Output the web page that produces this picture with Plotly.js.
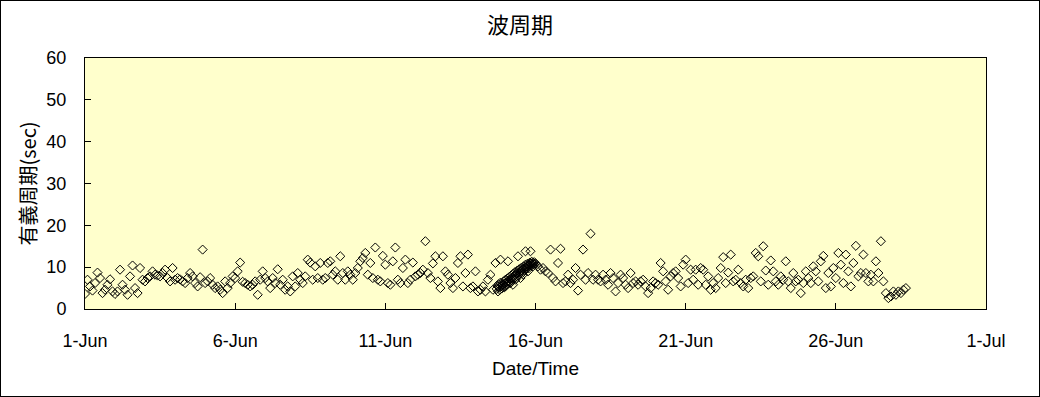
<!DOCTYPE html>
<html>
<head>
<meta charset="utf-8">
<script src="https://cdn.plot.ly/plotly-3.0.1.min.js"></script>
<style>
  html, body { margin: 0; padding: 0; background: #fff; }
  #chart { width: 1038px; height: 395px; border: 1px solid #000; }
</style>
</head>
<body>
<div id="chart"></div>
<script>
// ---- data ----
const seriesStart = '2020-06-01T00:00:00';
const stepHours = 2;
// significant wave period (sec), every 2 hours from 1-Jun 00:00
const period = [
  3.6, 7.0, 5.4, 4.4, 6.2, 8.7, 7.4, 3.8, 4.6, 5.8, 7.1, 4.2,
  3.6, 4.2, 9.4, 5.8, 4.6, 3.4, 7.8, 10.4, 5.0, 3.8, 9.8, 7.0,
  6.6, 7.4, 7.8, 9.0, 8.2, 8.0, 7.8, 8.6, 9.4, 7.4, 6.6, 9.8,
  7.0, 7.4, 7.1, 6.6, 6.2, 7.4, 8.6, 7.8, 6.2, 5.4, 7.6, 14.2,
  6.2, 6.6, 7.4, 5.8, 5.0, 5.4, 4.6, 3.8, 6.6, 5.0, 6.2, 7.8,
  7.4, 9.0, 11.1, 6.5, 6.2, 5.8, 5.4, 5.8, 6.6, 3.4, 7.0, 9.0,
  7.4, 6.6, 5.0, 7.4, 6.2, 9.5, 5.8, 7.0, 4.6, 5.4, 4.2, 7.8,
  5.4, 8.6, 7.0, 6.2, 7.8, 11.8, 11.1, 7.0, 10.2, 7.4, 11.0, 7.0,
  7.4, 11.0, 11.4, 8.2, 9.0, 7.0, 12.6, 8.6, 7.0, 9.0, 8.2, 7.0,
  8.6, 9.8, 11.4, 12.2, 13.4, 8.2, 11.0, 7.4, 14.7, 7.0, 6.6, 12.7,
  10.6, 6.2, 5.8, 11.4, 14.7, 7.0, 6.2, 9.8, 11.8, 6.2, 7.0, 11.1,
  7.8, 8.2, 8.6, 9.4, 16.2, 8.6, 7.4, 10.9, 12.6, 6.6, 5.0, 12.6,
  9.0, 8.2, 6.2, 5.0, 7.4, 11.0, 12.6, 5.4, 8.6, 13.0, 5.0, 5.4,
  9.0, 4.2, 4.6, 5.4, 4.2, 7.0, 8.2, 4.6, 11.0, 5.4, 11.8, 5.8,
  5.4, 11.4, 6.2, 5.8, 7.0, 12.6, 7.4, 8.2, 13.8, 9.0, 13.8, 10.2,
  10.9, 10.2, 9.4, 9.8, 9.0, 8.6, 14.2, 7.4, 6.6, 11.0, 14.4, 6.2,
  6.6, 8.2, 6.2, 7.0, 9.8, 4.4, 8.2, 14.2, 7.0, 8.6, 18.0, 7.0,
  8.2, 7.0, 6.6, 8.2, 7.0, 5.8, 8.6, 7.4, 4.2, 6.2, 8.2, 7.4,
  5.8, 5.0, 8.6, 6.2, 6.6, 5.8, 6.6, 7.0, 5.4, 3.8, 5.0, 6.6,
  6.2, 5.8, 11.0, 9.0, 6.6, 4.6, 7.8, 8.6, 9.0, 7.4, 5.4, 10.6,
  11.8, 6.2, 9.4, 7.0, 9.4, 5.8, 9.8, 9.4, 5.8, 7.8, 4.6, 6.2,
  5.0, 7.4, 9.8, 12.4, 6.2, 8.7, 13.0, 6.6, 7.0, 9.4, 6.2, 5.4,
  7.0, 5.0, 7.4, 7.8, 13.4, 12.6, 6.6, 15.0, 9.2, 5.8, 11.6, 9.0,
  6.6, 5.8, 7.8, 7.0, 11.4, 6.6, 5.0, 8.6, 6.6, 7.0, 3.8, 6.2,
  9.0, 7.4, 6.2, 10.2, 9.0, 6.6, 11.4, 12.7, 5.0, 8.6, 5.4, 9.8,
  7.4, 13.4, 10.6, 6.2, 13.0, 9.0, 5.4, 11.0, 15.1, 7.8, 8.6, 13.0,
  8.6, 6.6, 8.2, 6.6, 11.4, 8.6, 16.2, 6.6, 3.8, 2.6, 3.0, 4.2,
  3.4, 4.2, 3.8, 4.6, 5.0
];
// denser record 14-Jun 17:00 .. 15-Jun 23:30, every 30 min
const denseStart = '2020-06-14T17:00:00';
const denseStepMinutes = 30;
const densePeriod = [
  4.8, 5.6, 4.2, 5.9, 5.1, 4.6, 6.3, 5.4, 4.9, 6.0,
  5.7, 6.6, 5.2, 6.1, 7.0, 5.8, 6.4, 7.3, 6.0, 6.8,
  7.6, 6.5, 7.1, 8.0, 6.9, 7.5, 8.4, 7.2, 7.9, 8.8,
  8.1, 7.4, 8.6, 9.2, 8.0, 8.7, 9.5, 8.4, 9.0, 9.8,
  9.1, 8.6, 9.6, 10.2, 9.3, 9.9, 10.6, 9.5, 10.1, 10.8,
  10.3, 9.7, 10.5, 11.1, 10.4, 10.9, 11.3, 10.6, 11.0, 10.7,
  11.2, 10.8
];
const tickDates = ['2020-06-01', '2020-06-06', '2020-06-11', '2020-06-16', '2020-06-21', '2020-06-26', '2020-07-01'];
const tickLabels = ['1-Jun', '6-Jun', '11-Jun', '16-Jun', '21-Jun', '26-Jun', '1-Jul'];
const yTicks = [0, 10, 20, 30, 40, 50, 60];

// ---- build times ----
function pad(n) { return (n < 10 ? '0' : '') + n; }
function fmt(ms) {
  const d = new Date(ms);
  return d.getUTCFullYear() + '-' + pad(d.getUTCMonth() + 1) + '-' + pad(d.getUTCDate()) +
    ' ' + pad(d.getUTCHours()) + ':' + pad(d.getUTCMinutes());
}
const t0 = Date.parse(seriesStart + 'Z');
const times = period.map((_, i) => fmt(t0 + i * stepHours * 3600000));
const td0 = Date.parse(denseStart + 'Z');
const denseTimes = densePeriod.map((_, i) => fmt(td0 + i * denseStepMinutes * 60000));

const markerStyle = { symbol: 'diamond-open', size: 7, color: '#000', line: { width: 1, color: '#000' } };

const traces = [
  { x: times, y: period, type: 'scatter', mode: 'markers', marker: markerStyle, hoverinfo: 'skip' },
  { x: denseTimes, y: densePeriod, type: 'scatter', mode: 'markers', marker: markerStyle, hoverinfo: 'skip' }
];

const latin = 'Liberation Sans, Arial, sans-serif';
const cjk = 'Noto Sans CJK JP, sans-serif';

const layout = {
  width: 1038,
  height: 395,
  margin: { l: 84, r: 53, t: 57, b: 87, pad: 0 },
  paper_bgcolor: '#ffffff',
  plot_bgcolor: '#FFFFCC',
  showlegend: false,
  title: {
    text: '波周期',
    font: { family: cjk, size: 22, color: '#000' },
    xref: 'container', x: 0.5, xanchor: 'center',
    yref: 'container', y: 1 - 24 / 395, yanchor: 'middle'
  },
  xaxis: {
    type: 'date',
    range: [tickDates[0], tickDates[tickDates.length - 1]],
    tickmode: 'array',
    tickvals: tickDates,
    ticktext: tickLabels,
    ticks: 'inside', ticklen: 6, tickwidth: 1, tickcolor: '#000',
    showline: true, linecolor: '#000', linewidth: 1, mirror: true,
    showgrid: false, zeroline: false,
    tickfont: { family: latin, size: 18, color: '#000' },
    ticklabelstandoff: 15,
    title: { text: 'Date/Time', font: { family: latin, size: 19, color: '#000' }, standoff: 12 }
  },
  yaxis: {
    range: [0, 60],
    tickmode: 'array',
    tickvals: yTicks,
    ticktext: yTicks.map(String),
    ticks: 'inside', ticklen: 6, tickwidth: 1, tickcolor: '#000',
    showline: true, linecolor: '#000', linewidth: 1, mirror: true,
    showgrid: false, zeroline: false,
    tickfont: { family: latin, size: 18, color: '#000' },
    ticklabelstandoff: 14,
    title: { text: '有義周期(sec)', font: { family: cjk, size: 20, color: '#000' }, standoff: 4 }
  }
};

Plotly.newPlot('chart', traces, layout, { staticPlot: true, displayModeBar: false });
</script>
</body>
</html>
